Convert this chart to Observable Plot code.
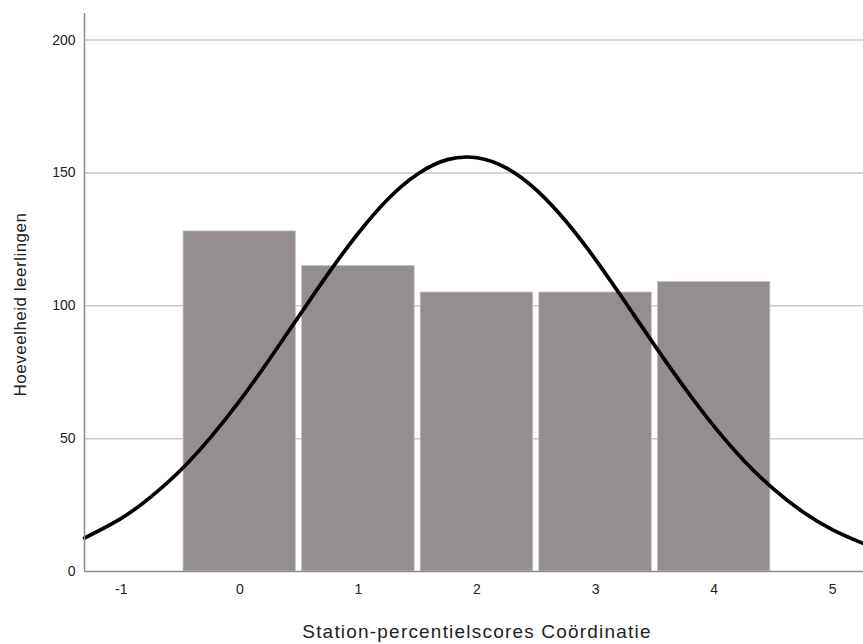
<!DOCTYPE html>
<html>
<head>
<meta charset="utf-8">
<script src="https://cdn.jsdelivr.net/npm/d3@7"></script>
<script src="https://cdn.jsdelivr.net/npm/@observablehq/plot@0.6"></script>
<style>
  html, body { margin: 0; padding: 0; background: #fff; }
  #chart svg { display: block; }
</style>
</head>
<body>
<div id="chart"></div>
<script>
// Histogram bins (score category) and counts
const categories = [0, 1, 2, 3, 4];
const counts = [128, 115, 105, 105, 109];

// Normal curve (x position, count)
const curveX = [-1.31, -1, -0.75, -0.5, -0.25, 0, 0.25, 0.5, 0.75, 1, 1.25, 1.5, 1.75, 2, 2.25, 2.5, 2.75, 3, 3.25, 3.5, 3.75, 4, 4.25, 4.5, 4.75, 5, 5.26];
const curveY = [12.6, 20.0, 28.1, 38.1, 50.3, 64.3, 79.9, 96.2, 112.4, 127.4, 140.2, 149.6, 155.0, 155.7, 151.8, 143.6, 131.8, 117.4, 101.4, 85.0, 69.2, 54.6, 41.8, 31.1, 22.4, 15.7, 10.5];

const xTicks = [-1, 0, 1, 2, 3, 4, 5];
const yTicks = [0, 50, 100, 150, 200];
const xLabel = "Station-percentielscores Coördinatie";
const yLabel = "Hoeveelheid leerlingen";

const bars = categories.map((c, i) => ({x1: c - 0.5, x2: c + 0.5, y: counts[i]}));
const curve = curveX.map((x, i) => ({x, y: curveY[i]}));

const chart = Plot.plot({
  width: 863,
  height: 644,
  marginLeft: 84,
  marginRight: 0,
  marginTop: 13,
  marginBottom: 73,
  style: {fontFamily: "Arial, 'Liberation Sans', sans-serif", fontSize: "14px", color: "#222", background: "#fff"},
  x: {domain: [-1.31, 5.26], ticks: xTicks},
  y: {domain: [0, 210], ticks: yTicks},
  marks: [
    Plot.gridY(yTicks.filter(d => d > 0), {stroke: "#c8c8c8", strokeOpacity: 1, strokeWidth: 1.5}),
    Plot.rectY(bars, {x1: "x1", x2: "x2", y: "y", fill: "#948f8e", stroke: "#c9c6c5", strokeWidth: 0.8, insetLeft: 3, insetRight: 3}),
    Plot.line(curve, {x: "x", y: "y", stroke: "#000", strokeWidth: 3.7, curve: "natural"}),
    Plot.ruleX([-1.31], {stroke: "#8c8c8c", strokeWidth: 1.5, y1: 0, y2: 210}),
    Plot.ruleY([0], {stroke: "#8c8c8c", strokeWidth: 1.5}),
    Plot.axisX(xTicks, {tickSize: 0, tickPadding: 13, label: null, fontSize: 14, tickFormat: d => String(d)}),
    Plot.axisY(yTicks, {tickSize: 0, tickPadding: 9, label: null, fontSize: 14, tickFormat: d => String(d)}),
    Plot.text([xLabel], {frameAnchor: "bottom", lineAnchor: "middle", dy: 60, dx: 3, fontSize: 19, fill: "#222"}),
    Plot.text([yLabel], {frameAnchor: "left", textAnchor: "middle", dx: -64, dy: 12, rotate: -90, fontSize: 17, fill: "#222"})
  ]
});
chart.querySelectorAll("text").forEach(t => {
  if (t.textContent === xLabel) t.style.letterSpacing = "1.2px";
  if (t.textContent === yLabel) t.style.letterSpacing = "0.5px";
});
document.getElementById("chart").appendChild(chart);
</script>
</body>
</html>
